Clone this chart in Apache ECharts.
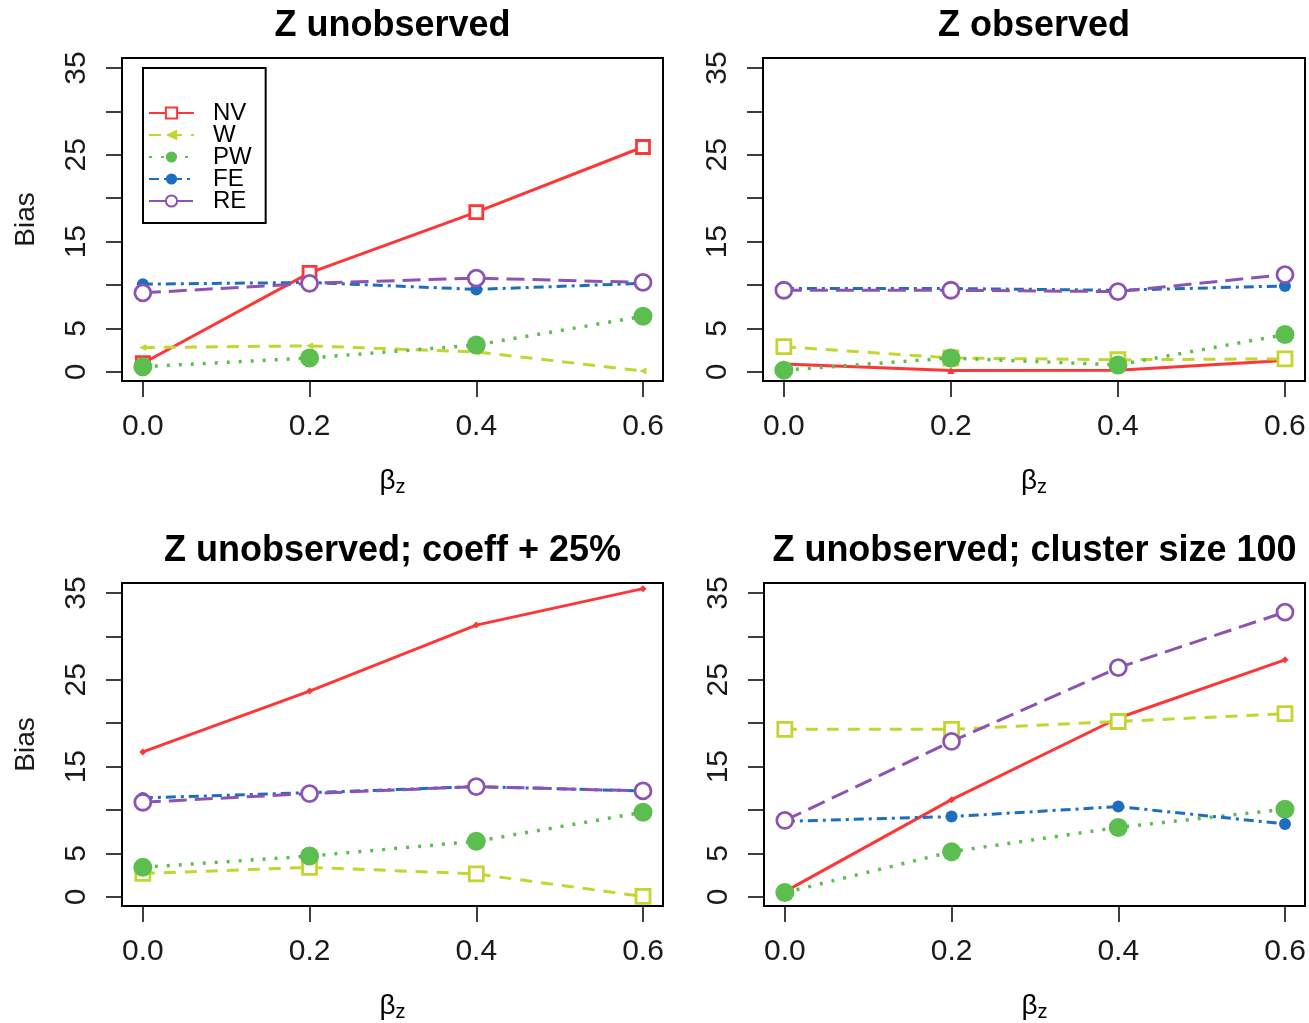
<!DOCTYPE html>
<html>
<head>
<meta charset="utf-8">
<script src="https://cdn.jsdelivr.net/npm/echarts@6/dist/echarts.min.js"></script>
<style>html,body{margin:0;padding:0;background:#fff;}#c{width:1309px;height:1023px;}</style>
</head>
<body>
<div id="c"></div>
<script>
// ---- data ----
const xVals = [0, 0.2, 0.4, 0.6];
const seriesNames = ['NV', 'W', 'PW', 'FE', 'RE'];
const panelTitles = ['Z unobserved', 'Z observed', 'Z unobserved; coeff + 25%', 'Z unobserved; cluster size 100'];
const yTickValues = [0, 5, 10, 15, 20, 25, 30, 35];
const yLabelValues = [0, 5, 15, 25, 35];
const xTickValues = [0, 0.2, 0.4, 0.6];

// Panel 1: Z unobserved
const p1NV = [1.0, 11.4, 18.4, 25.9];
const p1W  = [2.8, 3.0, 2.3, 0.1];
const p1PW = [0.6, 1.6, 3.1, 6.4];
const p1FE = [10.1, 10.3, 9.5, 10.2];
const p1RE = [9.1, 10.2, 10.8, 10.3];
// Panel 2: Z observed
const p2NV = [0.9, 0.15, 0.2, 1.3];
const p2W  = [2.9, 1.6, 1.4, 1.5];
const p2PW = [0.2, 1.6, 0.8, 4.3];
const p2FE = [9.6, 9.6, 9.4, 9.9];
const p2RE = [9.4, 9.4, 9.25, 11.2];
// Panel 3: coeff + 25%
const p3NV = [16.7, 23.7, 31.3, 35.5];
const p3W  = [2.7, 3.4, 2.65, 0.05];
const p3PW = [3.4, 4.7, 6.4, 9.75];
const p3FE = [11.4, 12.0, 12.7, 12.2];
const p3RE = [10.9, 11.9, 12.7, 12.2];
// Panel 4: cluster size 100
const p4NV = [0.6, 11.2, 20.6, 27.3];
const p4W  = [19.3, 19.3, 20.2, 21.1];
const p4PW = [0.5, 5.2, 8.0, 10.1];
const p4FE = [8.7, 9.25, 10.4, 8.4];
const p4RE = [8.8, 17.9, 26.4, 32.8];

const panelData = [
  [p1NV, p1W, p1PW, p1FE, p1RE],
  [p2NV, p2W, p2PW, p2FE, p2RE],
  [p3NV, p3W, p3PW, p3FE, p3RE],
  [p4NV, p4W, p4PW, p4FE, p4RE]
];

// ---- styles ----
const FONT = 'Liberation Sans, Arial, Helvetica, sans-serif';
const lineStyles = {
  NV: {color: '#FF3636', type: 'solid', width: 3},
  W:  {color: '#C3D62F', type: [12, 9], width: 3},
  PW: {color: '#5BBE4F', type: [3, 9], width: 3.5},
  FE: {color: '#1E6EC0', type: [10, 5, 3, 5], width: 3},
  RE: {color: '#8D53B4', type: [18, 8], width: 3}
};
const smallTri = 'path://M0,5L8,0L8,10Z';
// marker per panel
const markers = {
  NV: [{s: 'rect', z: 13, open: true}, {s: 'triangle', z: 7}, {s: 'diamond', z: 7}, {s: 'diamond', z: 7}],
  W:  [{s: smallTri, z: 7}, {s: 'rect', z: 14, open: true}, {s: 'rect', z: 14, open: true}, {s: 'rect', z: 14, open: true}],
  PW: [{s: 'circle', z: 19}, {s: 'circle', z: 19}, {s: 'circle', z: 19}, {s: 'circle', z: 19}],
  FE: [{s: 'circle', z: 12}, {s: 'circle', z: 12}, {s: 'circle', z: 12}, {s: 'circle', z: 12}],
  RE: [{s: 'circle', z: 16, open: true}, {s: 'circle', z: 16, open: true}, {s: 'circle', z: 16, open: true}, {s: 'circle', z: 16, open: true}]
};

const grids = [
  {left: 122, top: 58, width: 541, height: 323},
  {left: 763, top: 58, width: 542, height: 323},
  {left: 122, top: 583, width: 541, height: 324},
  {left: 764, top: 583, width: 541, height: 324}
];

const option = {
  backgroundColor: '#fff',
  animation: false,
  title: panelTitles.map((t, i) => ({
    text: t,
    left: grids[i].left + grids[i].width / 2,
    top: grids[i].top - 50,
    textAlign: 'center',
    padding: 0,
    textStyle: {fontFamily: FONT, fontSize: 36, fontWeight: 'bold', color: '#000'}
  })),
  legend: {
    data: seriesNames,
    orient: 'vertical',
    left: 143, top: 68,
    padding: [33, 14, 10, 5],
    itemWidth: 45, itemHeight: 14, itemGap: -2,
    borderColor: '#000', borderWidth: 2,
    selectedMode: false,
    textStyle: {fontFamily: FONT, fontSize: 24, color: '#000', padding: [0, 0, 0, 14]}
  },
  grid: grids.map(g => Object.assign({show: true, borderColor: '#000', borderWidth: 2, backgroundColor: 'transparent'}, g)),
  xAxis: grids.map((g, i) => ({
    type: 'value', gridIndex: i, min: -0.025, max: 0.624,
    name: '{b|β}{s|z}', nameLocation: 'middle', nameGap: 84, nameMoveOverlap: false,
    nameTextStyle: {rich: {
      b: {fontFamily: FONT, fontSize: 28, color: '#000'},
      s: {fontFamily: FONT, fontSize: 20, color: '#000', verticalAlign: 'bottom', padding: [12, 0, 0, 0]}
    }},
    axisLine: {show: false, onZero: false},
    splitLine: {show: false},
    axisTick: {show: true, inside: false, length: 16, customValues: xTickValues, lineStyle: {color: '#000', width: 1.5}},
    axisLabel: {customValues: xTickValues, margin: 31, fontFamily: FONT, fontSize: 30, color: '#1a1a1a',
      formatter: v => v.toFixed(1)}
  })),
  yAxis: grids.map((g, i) => ({
    type: 'value', gridIndex: i, min: -1.05, max: 36.15,
    name: (i % 2 === 0) ? 'Bias' : '', nameLocation: 'middle', nameGap: 82, nameRotate: 90, nameMoveOverlap: false,
    nameTextStyle: {fontFamily: FONT, fontSize: 28, color: '#1a1a1a'},
    axisLine: {show: false, onZero: false},
    splitLine: {show: false},
    axisTick: {show: true, inside: false, length: 16, customValues: yTickValues, lineStyle: {color: '#000', width: 1.5}},
    axisLabel: {customValues: yLabelValues, margin: 30, rotate: 90, fontFamily: FONT, fontSize: 30, color: '#1a1a1a'}
  })),
  series: []
};

panelData.forEach((arrs, p) => {
  arrs.forEach((vals, k) => {
    const name = seriesNames[k];
    const ls = lineStyles[name];
    const m = markers[name][p];
    option.series.push({
      type: 'line', name: name,
      xAxisIndex: p, yAxisIndex: p,
      data: xVals.map((x, j) => [x, vals[j]]),
      symbol: m.s, symbolSize: m.z,
      showSymbol: true,
      lineStyle: {color: ls.color, type: ls.type, width: ls.width},
      itemStyle: m.open
        ? {color: '#fff', borderColor: ls.color, borderWidth: 2.8}
        : {color: ls.color, borderColor: ls.color, borderWidth: 0},
      emphasis: {disabled: true},
      z: 2 + k
    });
  });
});

const chart = echarts.init(document.getElementById('c'), null, {renderer: 'canvas'});
chart.setOption(option);
</script>
</body>
</html>
